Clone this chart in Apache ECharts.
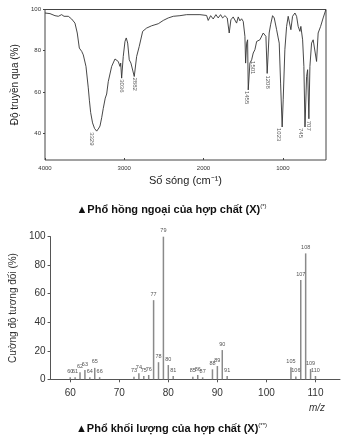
<!DOCTYPE html>
<html><head><meta charset="utf-8">
<script src="https://cdn.jsdelivr.net/npm/echarts@6/dist/echarts.min.js"></script>
<style>html,body{margin:0;padding:0;background:#fff}#c{width:343px;height:441px}</style>
</head><body><div id="c"></div>
<script>
// ---- IR spectrum (wavenumber cm-1, transmittance %) ----
const irWavenumber = [4000,3937,3874,3832,3790,3760,3735,3706,3664,3622,3593,3567,3537,3517,3483,3454,3440,3424,3400,3375,3348,3320,3306,3285,3265,3240,3222,3202,3159,3117,3096,3076,3054,3045,3033,3013,2991,2975,2957,2937,2916,2899,2874,2844,2811,2768,2718,2655,2613,2571,2508,2445,2382,2298,2213,2045,1961,1941,1910,1878,1844,1815,1785,1759,1730,1701,1676,1655,1626,1583,1562,1541,1520,1499,1478,1469,1456,1444,1436,1415,1393,1373,1352,1330,1289,1267,1247,1226,1213,1197,1172,1154,1129,1108,1078,1058,1045,1028,1008,995,974,952,932,911,898,877,847,826,806,784,772,750,734,720,700,687,671,658,637,617,595,574,554,523,491,457];
const irTransmittance = [98.3,98,97,96.7,97.5,96.7,97.5,96.7,95.4,93.4,88.6,81.3,79.7,78,72.4,62,56,50,45,42.3,41,42.5,43.5,47.5,52,57,59,65,72.4,76,76.5,74.8,72.4,74,66.7,77.2,84.5,86.2,83.7,75.6,74,74,67.5,77.2,82.1,89.4,91,92.1,92.6,93.1,94.7,95.9,96.7,97,97.5,97.5,97.1,94.7,97,95.4,97.5,95.9,97.5,95.9,97,95.9,88.6,95,96.4,93.4,96.4,94.5,95.5,94.2,87,74,83.7,85.3,61,74,75.6,78.9,80.5,84.5,85.3,86.2,88.6,89.4,87,69,88.6,92.6,97,95.9,90.2,86.2,83.7,64.3,43,56.2,80.5,91.8,96.7,95.9,90.2,96.7,98.3,96.7,91.8,89.4,91.8,85.3,72.4,43,67.5,70.8,47,72.4,83.7,85.3,86.2,74.8,88.6,91.8,95.9,99.9];
const irPeakWn = [3348,3033,2874,1469,1436,1197,1008,720,671];
const irPeakT = [41,66.7,67.5,74,61,69,43,43,47];
const irPeakText = ['3329','3036','2882','1501','1455','1208','1023','745','707'];
const irXTicks = [1000,2000,3000,4000];
const irYTicks = [40,60,80,100];

// ---- Mass spectrum (m/z, relative intensity %) ----
const msMz = [60,61,62,63,64,65,66,73,74,75,76,77,78,79,80,81,85,86,87,89,90,91,92,105,106,107,108,109,110];
const msIntensity = [1.5,1.5,5,6.5,1.5,8,1.5,1.8,4.2,2.3,3,55.5,12,100,10,2.3,1.8,3,1.4,7,9.3,20.5,2.3,8.4,2,69.6,88.3,7.2,2.3];
const msLabel = ['60','61','62','63','64','65','66','73','74','75','76','77','78','79','80','81','85','86','87','88','89','90','91','105','106','107','108','109','110'];
const msXTicks = [60,70,80,90,100,110];

// label offsets (style only)
const irLabelOffset = [[0,5],[0,0],[0,0],[-3,-7],[0,2],[1,0],[0,4],[0,4],[1,0]];

const FONT = 'Liberation Sans, Arial, sans-serif';
const chart = echarts.init(document.getElementById('c'), null, {renderer:'canvas'});
const option = {
  animation:false,
  backgroundColor:'#fff',
  textStyle:{fontFamily:FONT},
  grid:[
    {left:45, top:9.5, width:281, height:150.5, show:true, borderColor:'#444', borderWidth:1, backgroundColor:'transparent'},
    {left:42, top:236.7, width:298, height:142.6}
  ],
  xAxis:[
    {gridIndex:0, type:'value', inverse:true, min:455, max:4000,
     name:'Số sóng (cm⁻¹)', nameLocation:'middle', nameGap:15,
     nameTextStyle:{fontSize:11, color:'#222', fontFamily:FONT},
     axisLine:{show:false}, splitLine:{show:false},
     axisTick:{show:true, inside:true, length:2, customValues:irXTicks, lineStyle:{color:'#444'}},
     axisLabel:{customValues:irXTicks, fontSize:6, color:'#333', margin:5, fontFamily:FONT, formatter:v=>String(v)}},
    {gridIndex:1, type:'value', min:56, max:115,
     axisLine:{show:true, lineStyle:{color:'#555', width:1}}, splitLine:{show:false},
     axisTick:{show:true, length:3, customValues:msXTicks, lineStyle:{color:'#555'}},
     axisLabel:{customValues:msXTicks, fontSize:10, color:'#333', margin:9, fontFamily:FONT}}
  ],
  yAxis:[
    {gridIndex:0, type:'value', min:27, max:100,
     name:'Độ truyền qua (%)', nameLocation:'middle', nameGap:23,
     nameTextStyle:{fontSize:10, color:'#222', fontFamily:FONT},
     axisLine:{show:false}, splitLine:{show:false},
     axisTick:{show:true, inside:false, length:2, customValues:irYTicks, lineStyle:{color:'#444'}},
     axisLabel:{customValues:irYTicks, fontSize:6, color:'#333', margin:4, fontFamily:FONT}},
    {gridIndex:1, type:'value', min:0, max:100, interval:20,
     name:'Cường độ tương đối (%)', nameLocation:'middle', nameGap:24,
     nameTextStyle:{fontSize:10, color:'#333', fontFamily:FONT},
     axisLine:{show:true, lineStyle:{color:'#555', width:1}}, splitLine:{show:false},
     axisTick:{show:true, length:3, lineStyle:{color:'#555'}},
     axisLabel:{fontSize:10, color:'#333', margin:5, fontFamily:FONT}}
  ],
  series:[
    {type:'line', xAxisIndex:0, yAxisIndex:0, showSymbol:false, symbol:'none',
     lineStyle:{color:'#333', width:0.9}, silent:true,
     data: irWavenumber.map((w,i)=>[w, irTransmittance[i]])},
    {type:'scatter', xAxisIndex:0, yAxisIndex:0, symbolSize:0, silent:true,
     data: irPeakWn.map((w,i)=>({value:[w, irPeakT[i]], label:{offset:irLabelOffset[i]}})),
     label:{show:true, position:'bottom', distance:1, rotate:-90, align:'left', verticalAlign:'middle',
       fontSize:6, color:'#333', fontFamily:FONT,
       formatter:p=>irPeakText[p.dataIndex]}},
    {type:'bar', xAxisIndex:1, yAxisIndex:1, barWidth:1.5, silent:true,
     itemStyle:{color:'#8a8a8a'},
     data: msMz.map((m,i)=>[m, msIntensity[i]]),
     label:{show:true, position:'top', distance:3, fontSize:5.5, color:'#555', fontFamily:FONT,
       formatter:p=>msLabel[p.dataIndex]}}
  ],
  graphic:[
    {type:'text', left:'center', top:203, style:{
      text:'{b|▲Phổ hồng ngoại của hợp chất (X)}{s|(*)}',
      rich:{b:{fontSize:11, fontWeight:'bold', fill:'#111', fontFamily:FONT},
            s:{fontSize:6, fill:'#111', fontFamily:FONT, padding:[0,0,7,0]}}}},
    {type:'text', left:'center', top:422, style:{
      text:'{b|▲Phổ khối lượng của hợp chất (X)}{s|(**)}',
      rich:{b:{fontSize:11, fontWeight:'bold', fill:'#111', fontFamily:FONT},
            s:{fontSize:6, fill:'#111', fontFamily:FONT, padding:[0,0,7,0]}}}},
    {type:'text', left:309, top:403, style:{text:'m/z', fontSize:10, fontStyle:'italic', fill:'#333', fontFamily:FONT}}
  ]
};
chart.setOption(option);
</script>
</body></html>
